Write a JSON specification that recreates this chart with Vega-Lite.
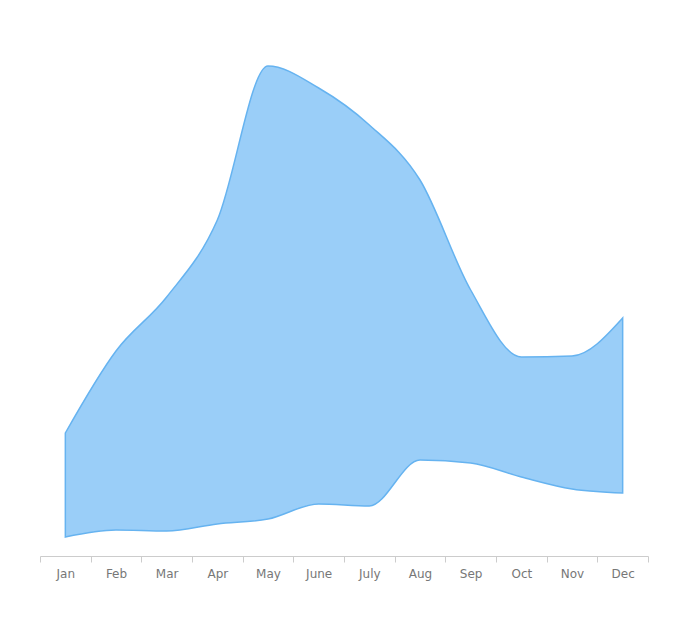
{
  "$schema": "https://vega.github.io/schema/vega-lite/v6.json",
  "width": 608,
  "height": 556,
  "autosize": {"type": "none"},
  "padding": {"left": 40, "top": 0, "right": 48, "bottom": 71},
  "background": "white",
  "config": {"view": {"stroke": null}},
  "data": {
    "values": [
      {"month": "Jan", "low": 19, "high": 123},
      {"month": "Feb", "low": 26, "high": 205},
      {"month": "Mar", "low": 25, "high": 259},
      {"month": "Apr", "low": 32, "high": 336},
      {"month": "May", "low": 37, "high": 490},
      {"month": "June", "low": 52, "high": 468},
      {"month": "July", "low": 50, "high": 431},
      {"month": "Aug", "low": 96, "high": 376},
      {"month": "Sep", "low": 93, "high": 266},
      {"month": "Oct", "low": 79, "high": 199},
      {"month": "Nov", "low": 67, "high": 200},
      {"month": "Dec", "low": 63, "high": 238}
    ]
  },
  "mark": {"type": "area", "interpolate": "monotone", "fill": "#9ACEF8", "fillOpacity": 1, "stroke": "#66B3F0", "strokeWidth": 1.5},
  "encoding": {
    "x": {
      "field": "month", "type": "nominal", "sort": null, "bandPosition": 0.5,
      "scale": {"type": "band", "paddingInner": 0, "paddingOuter": 0},
      "axis": {"title": null, "labelAngle": 0, "domainColor": "#cccccc", "tickColor": "#cccccc", "tickSize": 6, "tickBand": "extent", "labelFont": "DejaVu Sans", "labelFontSize": 12, "labelColor": "#777777", "labelPadding": 6}
    },
    "y": {"field": "high", "type": "quantitative", "scale": {"domain": [0, 556], "nice": false, "zero": true}, "axis": null},
    "y2": {"field": "low"}
  }
}
